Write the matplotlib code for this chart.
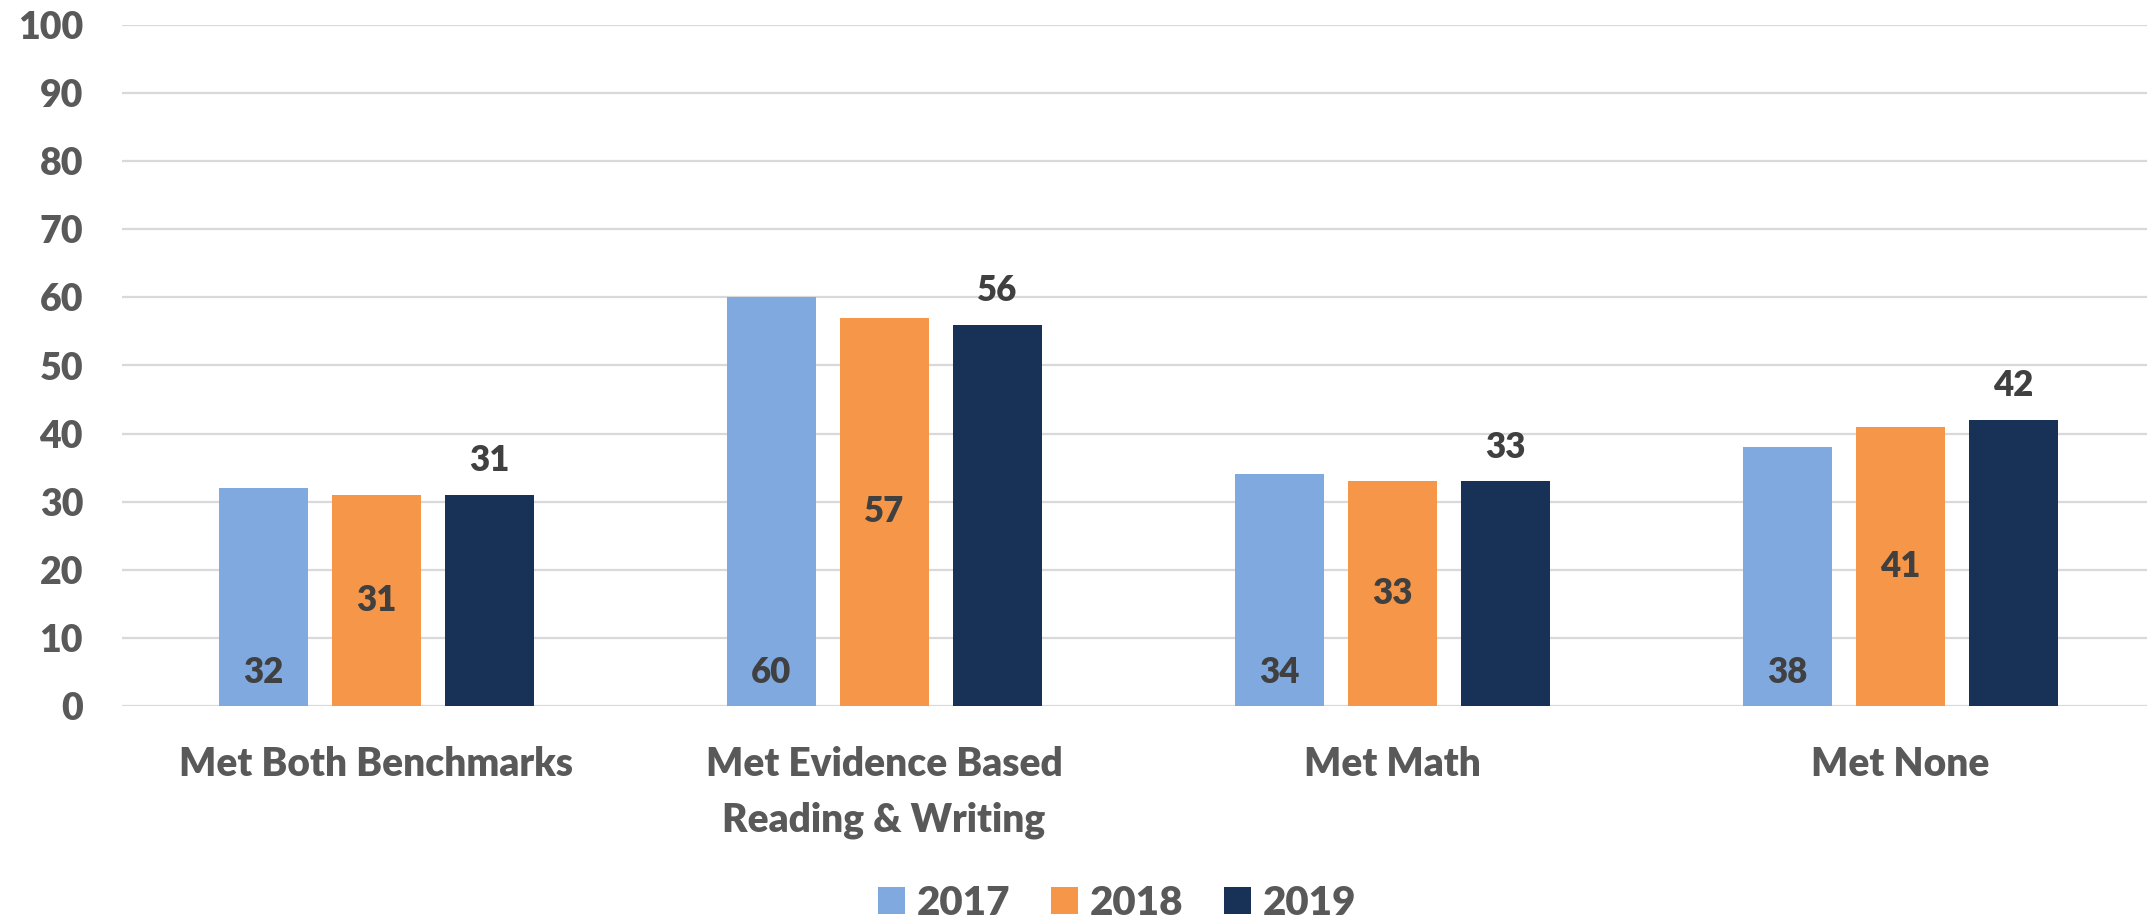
import matplotlib
matplotlib.use("Agg")
import matplotlib.pyplot as plt
import numpy as np
from matplotlib.patches import Patch

categories = ["Met Both Benchmarks", "Met Evidence Based\nReading & Writing", "Met Math", "Met None"]
years = ["2017", "2018", "2019"]
values_2017 = [32, 60, 34, 38]
values_2018 = [31, 57, 33, 41]
values_2019 = [31, 56, 33, 42]
yticks = [0, 10, 20, 30, 40, 50, 60, 70, 80, 90, 100]

colors = ["#80AADF", "#F69648", "#183257"]
series = [values_2017, values_2018, values_2019]

WEIGHT = 800
plt.rcParams['font.family'] = ['Lato', 'DejaVu Sans']
plt.rcParams['font.weight'] = WEIGHT

W, H = 2147, 921
fig = plt.figure(figsize=(W / 100, H / 100), dpi=100)
left = 122 / W
cat_px = 508
ax = fig.add_axes([left, 1 - 706 / H, 4 * cat_px / W, (706 - 25) / H])

x = np.arange(len(categories))
bw = 89 / cat_px
step = 113 / cat_px
lab_kw = dict(ha='center', va='center', fontsize=25, fontweight=WEIGHT, color='#404040', zorder=4,
              textcoords='offset pixels')
for i, (vals, col) in enumerate(zip(series, colors)):
    pos = x + (i - 1) * step
    ax.bar(pos, vals, width=bw, color=col, zorder=3, label=years[i])
    for p, v in zip(pos, vals):
        if i == 0:
            ax.annotate(str(v), (p, 0), xytext=(0, 34), **lab_kw)
        elif i == 1:
            ax.annotate(str(v), (p, v / 2), xytext=(0, 0), **lab_kw)
        else:
            ax.annotate(str(v), (p, v), xytext=(0, 34), **lab_kw)

ax.set_xlim(-0.5, len(categories) - 0.5)
ax.set_ylim(0, 100)
ax.set_yticks(yticks)
ax.set_yticklabels([str(t) for t in yticks], fontsize=27, fontweight=WEIGHT, color='#595959')
ax.set_xticks(x)
ax.set_xticklabels(categories, fontsize=28, fontweight=WEIGHT, color='#595959', linespacing=1.6)
ax.tick_params(axis='y', length=0, pad=28)
ax.tick_params(axis='x', length=0, pad=29)
ax.grid(axis='y', color='#D9D9D9', linewidth=1.6, zorder=0)
for s in ax.spines.values():
    s.set_visible(False)

handles = [Patch(facecolor=c, edgecolor='none') for c in colors]
fig.legend(handles, years, loc='center', bbox_to_anchor=(1117 / W, 1 - 903 / H), ncol=3, frameon=False,
           prop={'size': 29, 'weight': WEIGHT}, labelcolor='#595959', handlelength=0.67, handleheight=0.67,
           handletextpad=0.3, columnspacing=1.0, borderpad=0)

fig.savefig("out.png", dpi=100, facecolor='white')
